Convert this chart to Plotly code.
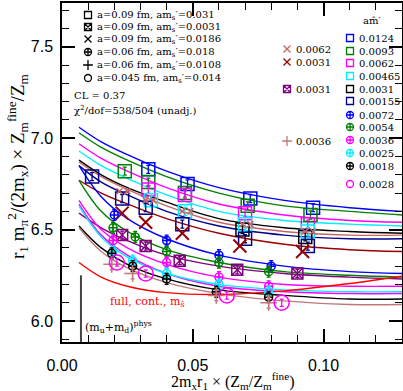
import plotly.graph_objects as go

W, H = 403, 391

# ---------------- fit curves (sampled at a few abscissae) ----------------
X_FIT = [0.0065, 0.015, 0.025, 0.04, 0.06, 0.085, 0.11, 0.13]

FIT_09_0124 = [7.06, 6.98, 6.91, 6.82, 6.73, 6.66, 6.62, 6.60]
FIT_09_0093 = [7.03, 6.95, 6.88, 6.79, 6.70, 6.63, 6.60, 6.58]
FIT_09_0062 = [6.97, 6.89, 6.82, 6.73, 6.64, 6.58, 6.55, 6.54]
FIT_09_00465 = [6.93, 6.85, 6.78, 6.69, 6.60, 6.55, 6.53, 6.52]
FIT_09_0031 = [6.88, 6.80, 6.73, 6.65, 6.56, 6.51, 6.49, 6.48]
FIT_09X_0062 = [6.87, 6.79, 6.72, 6.63, 6.54, 6.49, 6.47, 6.47]
FIT_09_00155 = [6.85, 6.76, 6.69, 6.60, 6.52, 6.47, 6.45, 6.45]
FIT_09X_0031 = [6.77, 6.70, 6.64, 6.56, 6.48, 6.42, 6.39, 6.38]
FIT_09S_0031 = [6.59, 6.51, 6.44, 6.36, 6.30, 6.26, 6.24, 6.23]
FIT_06_0072 = [6.85, 6.68, 6.56, 6.45, 6.36, 6.30, 6.27, 6.26]
FIT_06_0054 = [6.77, 6.60, 6.49, 6.39, 6.32, 6.27, 6.25, 6.24]
FIT_06_0036 = [6.66, 6.50, 6.40, 6.31, 6.24, 6.20, 6.19, 6.19]
FIT_045_0028 = [6.64, 6.47, 6.36, 6.26, 6.19, 6.16, 6.15, 6.15]
FIT_06_0025 = [6.63, 6.46, 6.35, 6.26, 6.20, 6.17, 6.16, 6.16]
FIT_06_0018 = [6.52, 6.40, 6.31, 6.23, 6.17, 6.14, 6.12, 6.12]
FIT_06P_0036 = [6.51, 6.38, 6.29, 6.21, 6.15, 6.11, 6.09, 6.09]
FIT_CONT = [6.32, 6.24, 6.19, 6.155, 6.145, 6.165, 6.205, 6.245]

# ---------------- data points ----------------
# a=0.09 fm, am_s'=0.031 (squares)
SQ_0124_X = [0.033, 0.048, 0.072, 0.096]
SQ_0124_Y = [6.83, 6.75, 6.67, 6.62]
SQ_0093_X = [0.024, 0.033, 0.047, 0.071, 0.095]
SQ_0093_Y = [6.82, 6.76, 6.70, 6.63, 6.58]
SQ_0062_X = [0.033, 0.047, 0.070, 0.094]
SQ_0062_Y = [6.72, 6.69, 6.59, 6.53]
SQ_00465_X = [0.034, 0.047, 0.070, 0.094]
SQ_00465_Y = [6.66, 6.60, 6.53, 6.49]
SQ_0031_X = [0.069, 0.093]
SQ_0031_Y = [6.50, 6.46]
SQ_00155_X = [0.0115, 0.023, 0.032, 0.046, 0.070, 0.094]
SQ_00155_Y = [6.79, 6.67, 6.62, 6.53, 6.45, 6.41]
# a=0.09 fm, am_s'=0.0186 (x)
XS_0062_X = [0.022, 0.025, 0.032, 0.035, 0.046, 0.049, 0.069, 0.072, 0.093, 0.096]
XS_0062_Y = [6.71, 6.71, 6.66, 6.66, 6.60, 6.60, 6.53, 6.53, 6.49, 6.49]
XS_0031_X = [0.023, 0.032, 0.046, 0.068, 0.092]
XS_0031_Y = [6.59, 6.54, 6.48, 6.41, 6.38]
# a=0.09 fm, am_s'=0.0031 (fancy square)
FS_0031_X = [0.023, 0.032, 0.045, 0.067, 0.090]
FS_0031_Y = [6.47, 6.41, 6.33, 6.28, 6.26]
# a=0.06 fm, am_s'=0.018 (fancy plus)
FP_0072_X = [0.020, 0.040, 0.060, 0.080]
FP_0072_Y = [6.58, 6.44, 6.36, 6.30]
FP_0054_X = [0.0195, 0.028, 0.040, 0.060, 0.079]
FP_0054_Y = [6.51, 6.46, 6.38, 6.32, 6.27]
FP_0036_X = [0.0195, 0.040, 0.060, 0.079]
FP_0036_Y = [6.44, 6.32, 6.24, 6.19]
FP_0025_X = [0.0195, 0.027, 0.040, 0.060, 0.079]
FP_0025_Y = [6.38, 6.33, 6.26, 6.20, 6.16]
FP_0018_X = [0.019, 0.027, 0.040, 0.059, 0.079]
FP_0018_Y = [6.37, 6.30, 6.23, 6.16, 6.13]
# a=0.06 fm, am_s'=0.0108 (plus)
PL_0036_X = [0.019, 0.027, 0.059, 0.079]
PL_0036_Y = [6.31, 6.26, 6.14, 6.10]
# a=0.045 fm, am_s'=0.014 (circles)
CI_0028_X = [0.021, 0.032, 0.063, 0.084]
CI_0028_Y = [6.32, 6.26, 6.14, 6.10]

ERR_SQ = 0.022
ERR_PL = 0.03
ERR_CI = 0.02

MUD_PHYS = 0.00725
MUD_TOP = 6.25

ENSEMBLES = ["a=0.09 fm, am<sub>s</sub>\u2032=0.031", "a=0.09 fm, am<sub>s</sub>\u2032=0.0031",
             "a=0.09 fm, am<sub>s</sub>\u2032=0.0186", "a=0.06 fm, am<sub>s</sub>\u2032=0.018",
             "a=0.06 fm, am<sub>s</sub>\u2032=0.0108", "a=0.045 fm, am<sub>s</sub>\u2032=0.014"]
SEA_RIGHT = ["0.0124", "0.0093", "0.0062", "0.00465", "0.0031", "0.00155",
             "0.0072", "0.0054", "0.0036", "0.0025", "0.0018", "0.0028"]
SEA_MID = ["0.0062", "0.0031", "0.0031", "0.0036"]

BLUE, GREEN, MAGENTA, CYAN = '#0000ff', '#008000', '#ff00ff', '#00eeff'
BLACK, NAVY, ROSY, DKRED = '#000000', '#00008b', '#c86464', '#990000'
PURPLE, ROSYP, RED = '#800080', '#c07878', '#ff0000'

SERIF = 'DejaVu Serif'
TITLE_SERIF = 'Liberation Serif'
SANS = 'Liberation Sans'

fig = go.Figure()

fits = [(FIT_09_0124, BLUE), (FIT_09_0093, GREEN), (FIT_09_0062, MAGENTA),
        (FIT_09_00465, CYAN), (FIT_09_0031, BLACK), (FIT_09X_0062, ROSY),
        (FIT_09_00155, NAVY), (FIT_09X_0031, DKRED), (FIT_09S_0031, PURPLE),
        (FIT_06_0072, BLUE), (FIT_06_0054, GREEN), (FIT_06_0036, MAGENTA),
        (FIT_045_0028, MAGENTA), (FIT_06_0025, CYAN), (FIT_06_0018, BLACK),
        (FIT_06P_0036, ROSYP), (FIT_CONT, RED)]
for ys, col in fits:
    fig.add_trace(go.Scatter(x=X_FIT, y=ys, mode='lines',
                             line=dict(color=col, width=1.4, shape='spline'),
                             hoverinfo='skip', showlegend=False))

# vertical line at physical light-quark mass
fig.add_trace(go.Scatter(x=[MUD_PHYS, MUD_PHYS], y=[5.0, MUD_TOP], mode='lines',
                         line=dict(color='#444444', width=2), showlegend=False))

SQ = dict(symbol='square-open', size=13, line=dict(width=1.5))
points = [
    (SQ_0124_X, SQ_0124_Y, BLUE, SQ, ERR_SQ),
    (SQ_0093_X, SQ_0093_Y, GREEN, SQ, ERR_SQ),
    (SQ_0062_X, SQ_0062_Y, MAGENTA, SQ, ERR_SQ),
    (SQ_00465_X, SQ_00465_Y, CYAN, SQ, ERR_SQ),
    (SQ_0031_X, SQ_0031_Y, BLACK, SQ, ERR_SQ),
    (SQ_00155_X, SQ_00155_Y, NAVY, SQ, ERR_SQ),
    (XS_0062_X, XS_0062_Y, ROSY, dict(symbol='x-thin-open', size=6, line=dict(width=1.5)), 0),
    (XS_0031_X, XS_0031_Y, DKRED, dict(symbol='x-thin-open', size=13, line=dict(width=2)), 0),
    (FS_0031_X, FS_0031_Y, PURPLE, dict(symbol='square-x-open', size=11, line=dict(width=1.5)), ERR_SQ),
    (FP_0072_X, FP_0072_Y, BLUE, dict(symbol='circle-cross-open', size=8, line=dict(width=1.5)), ERR_PL),
    (FP_0054_X, FP_0054_Y, GREEN, dict(symbol='circle-cross-open', size=8, line=dict(width=1.5)), ERR_PL),
    (FP_0036_X, FP_0036_Y, MAGENTA, dict(symbol='circle-cross-open', size=8, line=dict(width=1.5)), ERR_PL),
    (FP_0025_X, FP_0025_Y, CYAN, dict(symbol='circle-cross-open', size=8, line=dict(width=1.5)), ERR_PL),
    (FP_0018_X, FP_0018_Y, BLACK, dict(symbol='circle-cross-open', size=8, line=dict(width=1.5)), ERR_PL),
    (PL_0036_X, PL_0036_Y, ROSYP, dict(symbol='cross-thin-open', size=12, line=dict(width=1.5)), ERR_PL),
    (CI_0028_X, CI_0028_Y, MAGENTA, dict(symbol='circle-open', size=15, line=dict(width=1.5)), ERR_CI),
]
for xs, ys, col, mk, err in points:
    m = dict(mk)
    m['color'] = col
    m['line'] = dict(mk['line'], color=col)
    fig.add_trace(go.Scatter(x=xs, y=ys, mode='markers', marker=m,
                             error_y=dict(type='constant', value=err, color=col,
                                          thickness=1.3, width=2, visible=err > 0),
                             showlegend=False))

# ---------------- legend keys (pixel overlay) ----------------
def key(x, y, symbol, color, size=7):
    fig.add_trace(go.Scatter(x=[x], y=[y], xaxis='x2', yaxis='y2', mode='markers',
                             marker=dict(symbol=symbol, size=size, color=color,
                                         line=dict(color=color, width=1.3)),
                             showlegend=False, hoverinfo='skip'))

def label(x, y, text, color='black', size=10, anchor='left', family=SERIF):
    fig.add_annotation(x=x, y=y, xref='x2', yref='y2', text=text, showarrow=False,
                       xanchor=anchor, yanchor='middle',
                       font=dict(family=family, size=size, color=color))

left_syms = ['square-open', 'square-x-open', 'x-thin-open', 'circle-cross-open',
             'cross-thin-open', 'circle-open']
left_rows = [15, 27, 39, 52, 65, 78]
for s, yy, t in zip(left_syms, left_rows, ENSEMBLES):
    key(88, yy, s, BLACK)
    label(95, yy, t)
label(72, 95, "CL = 0.37")
label(72, 110, "\u03c7<sup>2</sup>/dof=538/504 (unadj.)")

mid_syms = [('x-thin-open', ROSY), ('x-thin-open', DKRED), ('square-x-open', PURPLE),
            ('cross-thin-open', ROSYP)]
mid_rows = [49, 62, 89, 141]
for (s, c), yy, t in zip(mid_syms, mid_rows, SEA_MID):
    key(287, yy, s, c)
    label(294, yy, t)

right_syms = [('square-open', BLUE), ('square-open', GREEN), ('square-open', MAGENTA),
              ('square-open', CYAN), ('square-open', BLACK), ('square-open', NAVY),
              ('circle-cross-open', BLUE), ('circle-cross-open', GREEN),
              ('circle-cross-open', MAGENTA), ('circle-cross-open', CYAN),
              ('circle-cross-open', BLACK), ('circle-open', MAGENTA)]
right_rows = [38, 51, 63, 76, 89, 101, 115, 127, 140, 153, 166, 184]
for (s, c), yy, t in zip(right_syms, right_rows, SEA_RIGHT):
    key(350, yy, s, c)
    label(357, yy, t)
label(372, 20, "am\u0302\u2032", anchor='center')

label(108, 302, "full, cont., m<sub>\u015d</sub>", color=RED, size=11)
label(83, 327, "(m<sub>u</sub>+m<sub>d</sub>)<sup>phys</sup>", size=11)

# axis titles
label(232, 381, "2m<sub>x</sub>r<sub>1</sub> \u00d7 (Z<sub>m</sub>/Z<sub>m</sub><sup>fine</sup>)",
      size=16, anchor='center', family=TITLE_SERIF)
fig.add_annotation(x=17, y=166, xref='x2', yref='y2', textangle=-90, showarrow=False,
                   text="r<sub>1</sub> m<sub>\u03c0</sub><sup>2</sup>/(2m<sub>x</sub>) \u00d7 "
                        "Z<sub>m</sub><sup>fine</sup>/Z<sub>m</sub>",
                   font=dict(family=TITLE_SERIF, size=19, color='black'))

axis_common = dict(showgrid=False, zeroline=False, showline=True, linecolor='black',
                   linewidth=1.5, mirror='allticks', ticks='inside', ticklen=13,
                   tickwidth=1.5, tickcolor='black', automargin=False,
                   tickfont=dict(family=SANS, size=16, color='black'))

fig.update_layout(
    width=W, height=H, margin=dict(l=0, r=0, t=0, b=0, autoexpand=False),
    paper_bgcolor='white', plot_bgcolor='rgba(0,0,0,0)', showlegend=False,
    xaxis=dict(axis_common, domain=[62 / W, 402 / W], range=[0, 0.13],
               tick0=0, dtick=0.05, tickformat='.2f', ticklabelstandoff=8,
               minor=dict(dtick=0.01, ticks='inside', ticklen=7, tickcolor='black', tickwidth=1.2)),
    yaxis=dict(axis_common, domain=[(H - 342) / H, (H - 3) / H], range=[5.885, 7.74],
               tick0=0, dtick=0.5, tickformat='.1f', ticklabelstandoff=4,
               minor=dict(dtick=0.1, ticks='inside', ticklen=7, tickcolor='black', tickwidth=1.2)),
    xaxis2=dict(domain=[0, 1], range=[0, W], visible=False, anchor='y2'),
    yaxis2=dict(domain=[0, 1], range=[H, 0], visible=False, anchor='x2'),
)

# the page body carries a default 8px margin; drop it so the figure sits at the window origin
fig.write_html("out.html", config={'displayModeBar': False},
               post_script="document.body.style.margin='0';document.body.style.overflow='hidden';")
